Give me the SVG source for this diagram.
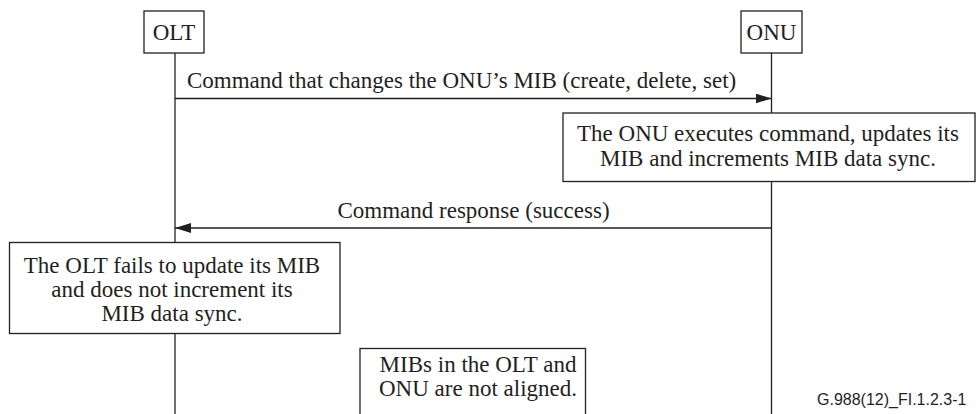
<svg xmlns="http://www.w3.org/2000/svg" width="977" height="414" viewBox="0 0 977 414">
<style>
.box{fill:#fff;stroke:#231f20;stroke-width:1.3}
.ln{stroke:#231f20;stroke-width:1.3;fill:none}
.t{font-size:23px;fill:#231f20}
.c{text-anchor:middle}
.f{font-size:16px;fill:#231f20}
</style>
<defs>
<marker id="ah" viewBox="0 0 16 10" refX="16" refY="5" markerWidth="16" markerHeight="10" markerUnits="userSpaceOnUse" orient="auto">
<path d="M0,0 L16,5 L0,10 Z" fill="#231f20"/>
</marker>
</defs>
<g id="connectors">
<line class="ln" x1="175" y1="53" x2="175" y2="414"/>
<line class="ln" x1="771.5" y1="53" x2="771.5" y2="414"/>
<line class="ln" x1="175" y1="98.5" x2="771.5" y2="98.5" marker-end="url(#ah)"/>
<text class="t" font-family="Liberation Serif, serif" x="187" y="88">Command that changes the ONU’s MIB (create, delete, set)</text>
<line class="ln" x1="771.5" y1="228" x2="175" y2="228" marker-end="url(#ah)"/>
<text class="t c" font-family="Liberation Serif, serif" x="473.5" y="218">Command response (success)</text>
</g>
<g id="olt">
<rect class="box" x="144" y="11" width="60" height="42"/>
<text class="t c" font-family="Liberation Serif, serif" x="174" y="40">OLT</text>
</g>
<g id="onu">
<rect class="box" x="741" y="11" width="61" height="42"/>
<text class="t c" font-family="Liberation Serif, serif" x="771.5" y="40">ONU</text>
</g>
<g id="onu-exec">
<rect class="box" x="563" y="113" width="412" height="68.5"/>
<text class="t c" font-family="Liberation Serif, serif" x="768" y="141">The ONU executes command, updates its</text>
<text class="t c" font-family="Liberation Serif, serif" x="768" y="166">MIB and increments MIB data sync.</text>
</g>
<g id="olt-fail">
<rect class="box" x="9.5" y="242.5" width="330.5" height="91"/>
<text class="t c" font-family="Liberation Serif, serif" x="172" y="273">The OLT fails to update its MIB</text>
<text class="t c" font-family="Liberation Serif, serif" x="172" y="297">and does not increment its</text>
<text class="t c" font-family="Liberation Serif, serif" x="172" y="321">MIB data sync.</text>
</g>
<g id="mibs">
<rect class="box" x="360" y="348.5" width="225.5" height="70"/>
<text class="t c" font-family="Liberation Serif, serif" x="478" y="372">MIBs in the OLT and</text>
<text class="t c" font-family="Liberation Serif, serif" x="478" y="396">ONU are not aligned.</text>
</g>
<text class="f" font-family="Liberation Sans, sans-serif" x="817" y="405">G.988(12)_FI.1.2.3-1</text>
</svg>
